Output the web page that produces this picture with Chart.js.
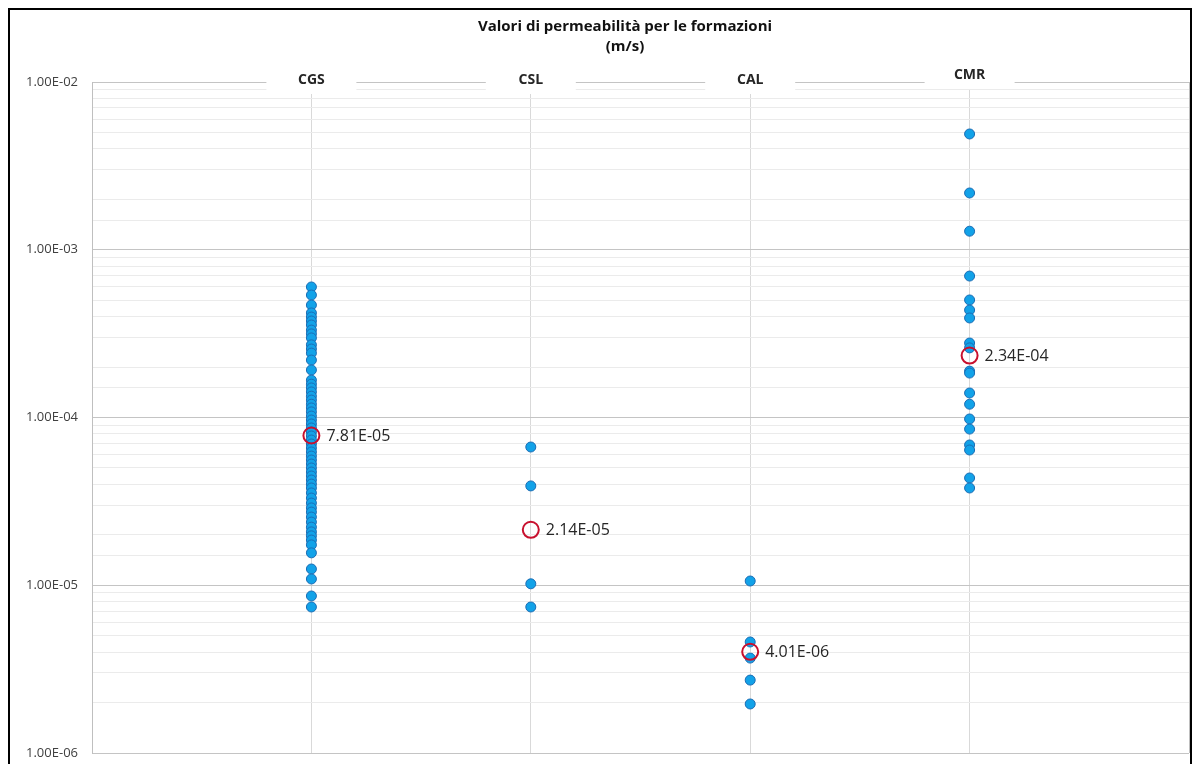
<!DOCTYPE html>
<html><head><meta charset="utf-8">
<script src="https://cdn.jsdelivr.net/npm/chart.js@4"></script>
<style>html,body{margin:0;padding:0;background:#fff}#wrap{width:1194px;height:764px;position:relative}canvas{display:block}</style>
</head><body><div id="wrap"><canvas id="c" width="1194" height="764"></canvas></div>
<script>
const titleLines = ['Valori di permeabilità per le formazioni', '(m/s)'];
const categories = ['CGS', 'CSL', 'CAL', 'CMR'];
const cgsValues = [6.0e-4, 5.37e-4, 4.68e-4, 4.20e-4, 3.97e-4, 3.76e-4, 3.56e-4, 3.32e-4, 3.15e-4, 2.98e-4,
  2.71e-4, 2.56e-4, 2.42e-4, 2.20e-4, 1.92e-4, 1.67e-4, 1.58e-4, 1.50e-4, 1.42e-4, 1.34e-4,
  1.27e-4, 1.20e-4, 1.14e-4, 1.08e-4, 1.02e-4, 9.66e-5, 9.15e-5, 8.66e-5, 8.20e-5, 7.76e-5,
  7.34e-5, 6.95e-5, 6.58e-5, 6.23e-5, 5.89e-5, 5.58e-5, 5.28e-5, 5.00e-5, 4.73e-5, 4.48e-5,
  4.24e-5, 4.01e-5, 3.80e-5, 3.55e-5, 3.31e-5, 3.09e-5, 2.89e-5, 2.73e-5, 2.55e-5, 2.38e-5,
  2.22e-5, 2.08e-5, 1.97e-5, 1.86e-5, 1.74e-5, 1.56e-5, 1.25e-5, 1.09e-5, 8.63e-6, 7.42e-6];
const cslValues = [6.67e-5, 3.91e-5, 1.02e-5, 7.42e-6];
const calValues = [1.06e-5, 4.59e-6, 3.68e-6, 2.72e-6, 1.96e-6];
const cmrValues = [4.90e-3, 2.18e-3, 1.29e-3, 6.97e-4, 5.02e-4, 4.37e-4, 3.92e-4, 2.78e-4, 2.60e-4, 1.89e-4,
  1.84e-4, 1.40e-4, 1.20e-4, 9.8e-5, 8.53e-5, 6.86e-5, 6.40e-5, 4.36e-5, 3.80e-5];
const medianValues = [7.81e-5, 2.14e-5, 4.01e-6, 2.34e-4];
const yMin = 1e-6, yMax = 1e-2;

function fmtE(v) {
  const parts = v.toExponential(2).split('e');
  const n = parseInt(parts[1], 10);
  return parts[0] + 'E' + (n < 0 ? '-' : '+') + String(Math.abs(n)).padStart(2, '0');
}
function isDecade(v) {
  const l = Math.log10(v);
  return Math.abs(l - Math.round(l)) < 1e-6;
}

const seriesValues = [cgsValues, cslValues, calValues, cmrValues];
const pointData = [];
seriesValues.forEach((arr, i) => arr.forEach(v => pointData.push({x: i + 1, y: v})));
const medianData = medianValues.map((v, i) => ({x: i + 1, y: v}));

const FONT = '"Open Sans", "Noto Sans", sans-serif';

const decor = {
  id: 'decor',
  beforeDraw(chart) {
    const ctx = chart.ctx;
    ctx.save();
    ctx.fillStyle = '#fff';
    ctx.fillRect(0, 0, chart.width, chart.height);
    ctx.restore();
  },
  afterDraw(chart) {
    const ctx = chart.ctx, xs = chart.scales.x, ys = chart.scales.y;
    ctx.save();
    ctx.textAlign = 'center';
    ctx.textBaseline = 'middle';
    ctx.fillStyle = '#111';
    ctx.font = 'bold 15px ' + FONT;
    titleLines.forEach((t, i) => ctx.fillText(t, 625, 27 + i * 20));
    categories.forEach((c, i) => {
      const x = xs.getPixelForValue(i + 1);
      const y = i === 3 ? 75 : 80;
      ctx.fillStyle = '#fff';
      ctx.fillRect(x - 45, y - 10, 90, 24);
      ctx.fillStyle = '#262626';
      ctx.font = 'bold 14px ' + FONT;
      ctx.fillText(c, x, y);
    });
    ctx.textAlign = 'left';
    ctx.font = '16px ' + FONT;
    ctx.fillStyle = '#262626';
    medianValues.forEach((v, i) => {
      const x = xs.getPixelForValue(i + 1) + 15;
      const y = ys.getPixelForValue(v);
      ctx.fillText(fmtE(v), x, y + 1);
    });
    ctx.strokeStyle = '#000';
    ctx.lineWidth = 2;
    ctx.strokeRect(9, 9, 1182, 800);
    ctx.restore();
  }
};

new Chart(document.getElementById('c'), {
  type: 'scatter',
  data: {
    datasets: [
      {
        label: 'Mediana',
        data: medianData,
        pointRadius: 8,
        pointHoverRadius: 8,
        pointBackgroundColor: 'rgba(0,0,0,0)',
        pointBorderColor: '#C8102E',
        pointBorderWidth: 2
      },
      {
        label: 'Permeabilità',
        data: pointData,
        pointRadius: 5,
        pointHoverRadius: 5,
        pointBackgroundColor: '#12A2E8',
        pointBorderColor: '#1B6DB5',
        pointBorderWidth: 1
      }
    ]
  },
  options: {
    responsive: false,
    animation: false,
    events: [],
    layout: {autoPadding: false, padding: {left: 0, right: 5, top: 82, bottom: 11}},
    plugins: {legend: {display: false}, tooltip: {enabled: false}, title: {display: false}},
    scales: {
      x: {
        type: 'linear', min: 0, max: 5,
        ticks: {display: false, stepSize: 1},
        border: {display: false},
        grid: {
          drawTicks: false,
          lineWidth: 1,
          color: c => (c.tick && (c.tick.value === 0 || c.tick.value === 5)) ? '#bfbfbf' : '#d9d9d9'
        },
        afterFit: s => { s.height = 0; }
      },
      y: {
        type: 'logarithmic', min: yMin, max: yMax,
        border: {display: true, color: '#bfbfbf'},
        grid: {
          drawTicks: false,
          color: c => (c.tick && isDecade(c.tick.value)) ? '#c4c4c4' : '#ebebeb'
        },
        ticks: {
          autoSkip: false,
          padding: 14,
          color: '#404040',
          font: {family: FONT, size: 13},
          callback: v => isDecade(v) ? fmtE(v) : ''
        },
        afterFit: s => { s.width = 92; s.paddingTop = 0; s.paddingBottom = 0; }
      }
    }
  },
  plugins: [decor]
});
</script>
</body></html>
